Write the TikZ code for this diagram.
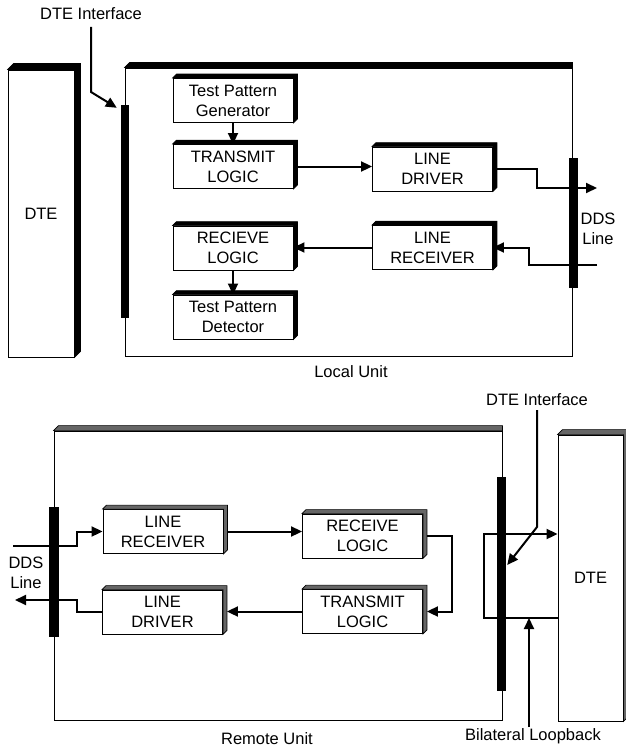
\documentclass[tikz,border=0pt]{standalone}
\usepackage{fontspec}
\setmainfont{Liberation Sans}
\usetikzlibrary{calc,arrows.meta}

% 3D sides of a box: node, colour, depth
\newcommand{\sideband}[3]{%
  \filldraw[fill=#2,draw=black,line width=0.6pt] (#1.north west) -- ++(#3,-#3) -- ($(#1.north east)+(#3,-#3)$) -- ($(#1.south east)+(#3,-#3)$) -- (#1.south east) -- (#1.north east) -- cycle;}
% top edge of a unit frame: node, colour
\newcommand{\topband}[2]{%
  \filldraw[fill=#2,draw=black,line width=0.6pt] (#1.north west) -- ++(5,-5) -- ($(#1.north east)+(0,-5)$) -- (#1.north east) -- cycle;}

\begin{document}
\begin{tikzpicture}[x=1pt,y=-1pt,
  lbl/.style={font=\fontsize{16.5}{20}\selectfont, align=center, inner sep=0pt},
  blk/.style={draw, line width=0.9pt, fill=white, align=center, inner sep=0pt,
    minimum width=120pt, minimum height=44pt, font=\fontsize{16.5}{20}\selectfont},
  unitframe/.style={draw, line width=0.9pt, inner sep=0pt},
  bar/.style={fill=black, inner sep=0pt},
  conn/.style={line width=2pt},
  arr/.style={-{Triangle[length=11pt,width=10pt]}}]
  \useasboundingbox (0,0) rectangle (626,752);

  % local unit
  \node[unitframe, minimum width=447pt, minimum height=288pt] (localU) at (348.5,212) {};
  \topband{localU}{black}
  \node[blk, minimum width=66pt, minimum height=287pt] (dteL) at (41,213.5) {DTE};
  \sideband{dteL}{black}{6}
  \node[bar, minimum width=8pt, minimum height=213pt] (ifL) at (125,211.5) {};
  \node[bar, minimum width=9pt, minimum height=130pt] (ddsL) at (573.5,223) {};

  \node[blk] (tpg) at (233,100.5) {Test Pattern\\Generator};
  \node[blk] (txL) at (233,166.5) {TRANSMIT\\LOGIC};
  \node[blk] (ldL) at (432.5,169) {LINE\\DRIVER};
  \node[blk] (lrL) at (432.5,247.5) {LINE\\RECEIVER};
  \node[blk] (rxL) at (233,248) {RECIEVE\\LOGIC};
  \node[blk] (tpd) at (233,317) {Test Pattern\\Detector};
  \foreach \b in {tpg,txL,ldL,lrL,rxL,tpd} {\sideband{\b}{black}{4}}

  \node[lbl] (ifLabelL) at (91,14) {DTE Interface};
  \node[lbl] (ddsLabelL) at (598,229) {DDS\\Line};
  \node[lbl] (localLabel) at (351,372) {Local Unit};
  \coordinate (outL) at (597,188);
  \coordinate (inL) at (597,265);

  \draw[conn,arr] (tpg.south) -- (txL.north);
  \draw[conn,arr] (txL.east) -- (txL.east -| ldL.west);
  \draw[conn,arr] (ldL.east) -- ++(44,0) |- (outL);
  \draw[conn,arr] (inL) -- ++(-68,0) |- (lrL.east);
  \draw[conn,arr] (lrL.west) -- (lrL.west -| rxL.east);
  \draw[conn,arr] (rxL.south) -- (tpd.north);
  \draw[conn,arr] (ifLabelL) ++(0,13) -- ++(0,65) -- ($(ifL.north west)+(-4,3)$);

  % remote unit
  \node[unitframe, minimum width=448pt, minimum height=289pt] (remoteU) at (278,575.5) {};
  \topband{remoteU}{gray!80!black}
  \node[blk, minimum width=65pt, minimum height=286pt] (dteR) at (590.5,578) {DTE};
  \sideband{dteR}{gray!80!black}{5}
  \node[bar, minimum width=10pt, minimum height=130pt] (ddsR) at (54,572) {};
  \node[bar, minimum width=9pt, minimum height=214pt] (ifR) at (501.5,584) {};

  \node[blk] (lrR) at (163,531.5) {LINE\\RECEIVER};
  \node[blk] (rxR) at (362.5,536) {RECEIVE\\LOGIC};
  \node[blk] (txR) at (362.5,611.5) {TRANSMIT\\LOGIC};
  \node[blk] (ldR) at (162.5,612) {LINE\\DRIVER};
  \foreach \b in {lrR,rxR,txR,ldR} {\sideband{\b}{gray!80!black}{4}}

  \node[lbl] (ddsLabelR) at (26,573) {DDS\\Line};
  \node[lbl] (remoteLabel) at (267,739) {Remote Unit};
  \node[lbl] (ifLabelR) at (537,400) {DTE Interface};
  \node[lbl] (blLabel) at (533,736) {Bilateral Loopback};
  \coordinate (inR) at (13,546);
  \coordinate (outR) at (15,600);
  \coordinate (lpA) at (484,534);
  \coordinate (lpB) at (484,618);
  \coordinate (blFoot) at (529,727);

  \draw[conn,arr] (inR) -- ++(64,0) |- (lrR.west);
  \draw[conn,arr,shorten <=4pt] (lrR.east) -- (lrR.east -| rxR.west);
  \draw[conn,arr,shorten <=4pt,shorten >=4pt] (rxR.east) -- ++(29,0) |- (txR.east);
  \draw[conn,arr,shorten >=4pt] (txR.west) -- (txR.west -| ldR.east);
  \draw[conn,arr] (ldR.west) -- ++(-25,0) |- (outR);
  \draw[conn,arr] (lpB -| dteR.west) -- (lpB) -- (lpA) -- (lpA -| dteR.west);
  \draw[conn,arr] (blFoot) -- (blFoot |- lpB);
  \draw[conn,arr] (ifLabelR) ++(0,10) -- ++(0,117) -- ($(ifR.east)+(1,-19)$);
\end{tikzpicture}
\end{document}
